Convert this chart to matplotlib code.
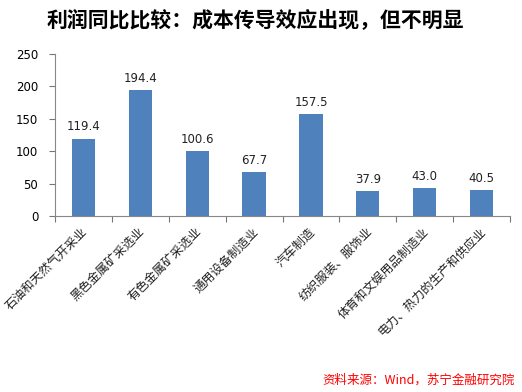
import matplotlib
matplotlib.use("Agg")
from matplotlib import pyplot as plt

plt.rcParams['font.family'] = ['Noto Sans CJK SC', 'DejaVu Sans']

categories = ["石油和天然气开采业", "黑色金属矿采选业", "有色金属矿采选业", "通用设备制造业",
              "汽车制造", "纺织服装、服饰业", "体育和文娱用品制造业", "电力、热力的生产和供应业"]
values = [119.4, 194.4, 100.6, 67.7, 157.5, 37.9, 43.0, 40.5]
yticks = [0, 50, 100, 150, 200, 250]

fig = plt.figure(figsize=(5.22, 3.92), dpi=100)
ax = fig.add_axes([55/522, 1 - 216/392, 455/522, 162/392])

x = range(len(values))
ax.bar(x, values, width=0.41, color="#4F81BD", zorder=2)
for i, v in enumerate(values):
    ax.text(i, v + 8, f"{v:.1f}", ha="center", va="bottom", fontsize=8.5,
            family="DejaVu Sans", color="#222222")

ax.set_xlim(-0.5, len(values) - 0.5)
ax.set_ylim(0, 250)
ax.set_yticks(yticks)
ax.set_yticklabels([str(t) for t in yticks], family="DejaVu Sans", fontsize=8.5)
ax.set_xticks([i - 0.5 for i in range(len(values) + 1)])
ax.set_xticklabels([])
ax.tick_params(axis="x", direction="out", length=4, color="#777777")
ax.tick_params(axis="y", direction="out", length=4, color="#777777", pad=8)
for i, c in enumerate(categories):
    ax.text(i - 0.04, -14, c, rotation=45, ha="right", va="top",
            rotation_mode="anchor", fontsize=8.8, color="#222222")

for s in ["top", "right"]:
    ax.spines[s].set_visible(False)
ax.spines["left"].set_color("#888888")
ax.spines["bottom"].set_color("#888888")

fig.text(255/522, 1 - 20/392, "利润同比比较：成本传导效应出现，但不明显", ha="center", va="center",
         fontsize=15, fontweight="bold")
fig.text(1 - 7/522, 1 - 380/392, "资料来源：Wind，苏宁金融研究院", ha="right", va="center",
         fontsize=9, color="#FF0000", style="italic")

fig.savefig("out.png", dpi=100)
